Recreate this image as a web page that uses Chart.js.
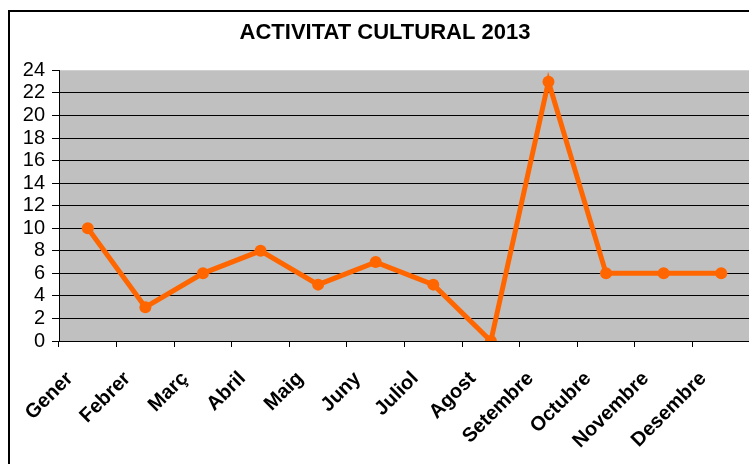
<!DOCTYPE html>
<html>
<head>
<meta charset="utf-8">
<script src="https://cdn.jsdelivr.net/npm/chart.js@4/dist/chart.umd.min.js"></script>
<style>
  html, body { margin: 0; padding: 0; background: #fff; overflow: hidden; }
  #wrap { width: 749px; height: 464px; overflow: hidden; }
</style>
</head>
<body>
<div id="wrap"><canvas id="activitatChart" width="790" height="464"></canvas></div>
<script>
const months = ['Gener','Febrer','Març','Abril','Maig','Juny','Juliol','Agost','Setembre','Octubre','Novembre','Desembre'];
const activitats = [10, 3, 6, 8, 5, 7, 5, 0, 23, 6, 6, 6];
const yTicks = [0, 2, 4, 6, 8, 10, 12, 14, 16, 18, 20, 22, 24];

const font = "'Liberation Sans', Arial, sans-serif";

// gray plot area + outer frame, like the Excel chart
const chartBackground = {
  id: 'chartBackground',
  beforeDraw(chart) {
    const ctx = chart.ctx;
    const a = chart.chartArea;
    ctx.save();
    ctx.fillStyle = '#fff';
    ctx.fillRect(0, 0, chart.width, chart.height);
    ctx.fillStyle = '#c0c0c0';
    ctx.fillRect(a.left, a.top, a.right - a.left, a.bottom - a.top);
    ctx.strokeStyle = '#000';
    ctx.lineWidth = 2;
    ctx.strokeRect(9, 11, 900, 600);
    ctx.restore();
  }
};

const ctx = document.getElementById('activitatChart').getContext('2d');
new Chart(ctx, {
  type: 'line',
  data: {
    labels: months,
    datasets: [{
      label: 'Activitat cultural',
      data: activitats,
      borderColor: '#ff6600',
      backgroundColor: '#ff6600',
      borderWidth: 5,
      pointRadius: 6,
      pointHoverRadius: 6,
      pointBorderWidth: 0,
      tension: 0,
      fill: false
    }]
  },
  options: {
    responsive: false,
    animation: false,
    layout: { padding: { left: 20, right: 40, top: 0, bottom: 0 } },
    plugins: {
      legend: { display: false },
      tooltip: { enabled: false },
      title: {
        display: true,
        text: 'ACTIVITAT CULTURAL 2013',
        color: '#000',
        font: { family: font, size: 22, weight: 'bold' },
        padding: { top: 20, bottom: 24 }
      }
    },
    scales: {
      x: {
        offset: true,
        grid: {
          offset: true,
          drawOnChartArea: false,
          color: '#000',
          tickLength: 6
        },
        border: { color: '#000', width: 1 },
        ticks: {
          color: '#000',
          font: { family: font, size: 20, weight: 'bold' },
          minRotation: 45,
          maxRotation: 45,
          labelOffset: -18,
          padding: 20,
          autoSkip: false
        },
        afterFit(scale) { scale.height = 123; }
      },
      y: {
        min: 0,
        max: 24,
        afterBuildTicks(scale) { scale.ticks = yTicks.map(v => ({ value: v })); },
        grid: {
          color: c => (c.tick && c.tick.value === 24) ? '#d0d0d0' : '#000',
          tickColor: '#000',
          tickLength: 7
        },
        border: { color: '#000', width: 1 },
        ticks: {
          color: '#000',
          font: { family: font, size: 20 },
          padding: 7,
          autoSkip: false
        },
        afterFit(scale) { scale.width = 39; }
      }
    }
  },
  plugins: [chartBackground]
});
</script>
</body>
</html>
